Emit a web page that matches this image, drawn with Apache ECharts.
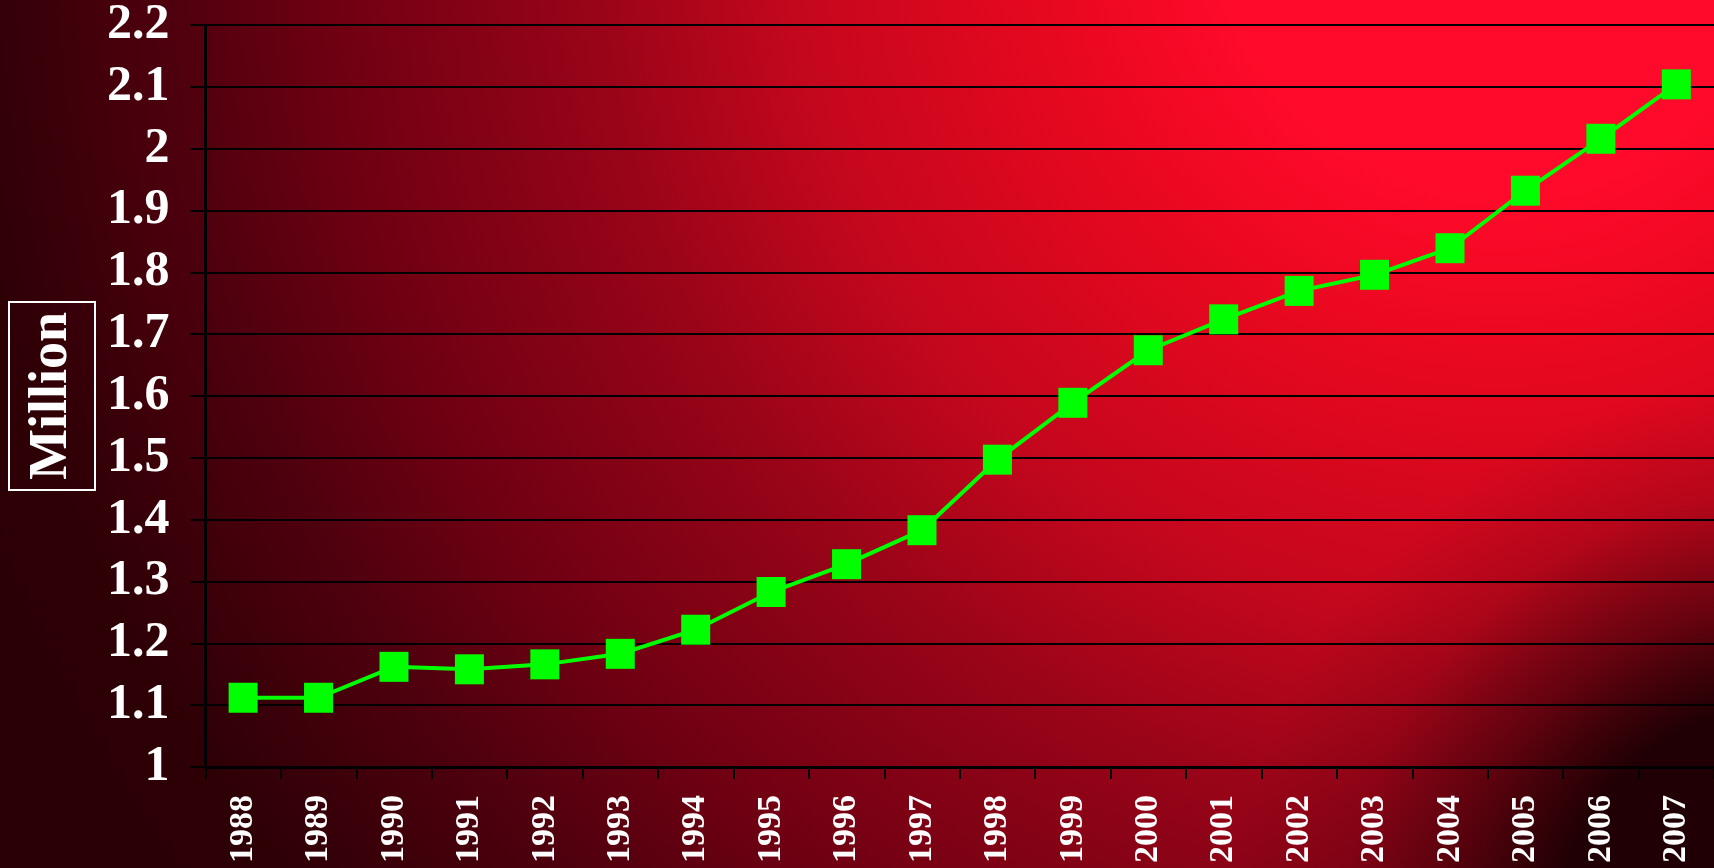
<!DOCTYPE html>
<html>
<head>
<meta charset="utf-8">
<script src="https://cdn.jsdelivr.net/npm/echarts@6/dist/echarts.min.js"></script>
<style>
  html, body { margin: 0; padding: 0; }
  #main { width: 1714px; height: 868px; }
</style>
</head>
<body>
<div id="main"></div>
<script>
// years on the x axis
var years = ['1988', '1989', '1990', '1991', '1992', '1993', '1994', '1995', '1996', '1997',
             '1998', '1999', '2000', '2001', '2002', '2003', '2004', '2005', '2006', '2007'];
// values in million
var millions = [1.112, 1.112, 1.162, 1.158, 1.166, 1.183, 1.222, 1.283, 1.328, 1.383,
                1.497, 1.589, 1.674, 1.724, 1.770, 1.796, 1.839, 1.932, 2.016, 2.104];
var yMin = 1, yMax = 2.2, yStep = 0.1;

var serif = "'Liberation Serif', 'Times New Roman', serif";

var chart = echarts.init(document.getElementById('main'));

// background: bright red top right, fading dark to the left
var bg = new echarts.graphic.RadialGradient(1500, -90, 1680, [
  { offset: 0, color: '#ff0a2a' },
  { offset: 0.17, color: '#ff0a2a' },
  { offset: 0.27, color: '#e8081f' },
  { offset: 0.42, color: '#c5071d' },
  { offset: 0.54, color: '#9a0418' },
  { offset: 0.70, color: '#6e0012' },
  { offset: 0.79, color: '#50000e' },
  { offset: 0.92, color: '#2e0006' },
  { offset: 1, color: '#2a0005' }
], true);

var option = {
  backgroundColor: bg,
  animation: false,
  graphic: [{
    type: 'rect',
    z: -1,
    silent: true,
    shape: { x: 0, y: 0, width: 1714, height: 868 },
    style: {
      // dark corner bottom right
      fill: new echarts.graphic.RadialGradient(1790, 940, 560, [
        { offset: 0, color: 'rgba(32,0,4,1)' },
        { offset: 0.42, color: 'rgba(32,0,4,1)' },
        { offset: 0.6, color: 'rgba(32,0,4,0.55)' },
        { offset: 0.8, color: 'rgba(32,0,4,0.15)' },
        { offset: 1, color: 'rgba(32,0,4,0)' }
      ], true)
    }
  }],
  grid: {
    left: 205,
    top: 24,
    bottom: 101,
    width: 1511
  },
  xAxis: {
    type: 'category',
    data: years,
    boundaryGap: true,
    axisLine: { lineStyle: { color: '#000', width: 3 } },
    axisTick: { show: true, length: 12, lineStyle: { color: '#000', width: 2 } },
    axisLabel: {
      rotate: 90,
      margin: 28,
      color: '#fff',
      fontFamily: serif,
      fontWeight: 'bold',
      fontSize: 34,
      interval: 0
    },
    splitLine: { show: false }
  },
  yAxis: {
    type: 'value',
    min: yMin,
    max: yMax,
    interval: yStep,
    name: 'Million',
    nameLocation: 'middle',
    nameRotate: 90,
    nameGap: 104,
    nameTextStyle: {
      color: '#fff',
      fontFamily: serif,
      fontWeight: 'bold',
      fontSize: 54,
      lineHeight: 60,
      borderColor: '#fff',
      borderWidth: 2,
      padding: [13, 10]
    },
    axisLine: { show: true, lineStyle: { color: '#000', width: 3 } },
    axisTick: { show: true, length: 15, lineStyle: { color: '#000', width: 2 } },
    axisLabel: {
      margin: 36,
      color: '#fff',
      fontFamily: serif,
      fontWeight: 'bold',
      fontSize: 50
    },
    splitLine: { show: true, lineStyle: { color: '#000', width: 2 } }
  },
  series: [{
    type: 'line',
    data: millions,
    symbol: 'rect',
    symbolSize: [29, 30],
    lineStyle: { color: '#00ff00', width: 4 },
    itemStyle: { color: '#00ff00' }
  }]
};

chart.setOption(option);
</script>
</body>
</html>
